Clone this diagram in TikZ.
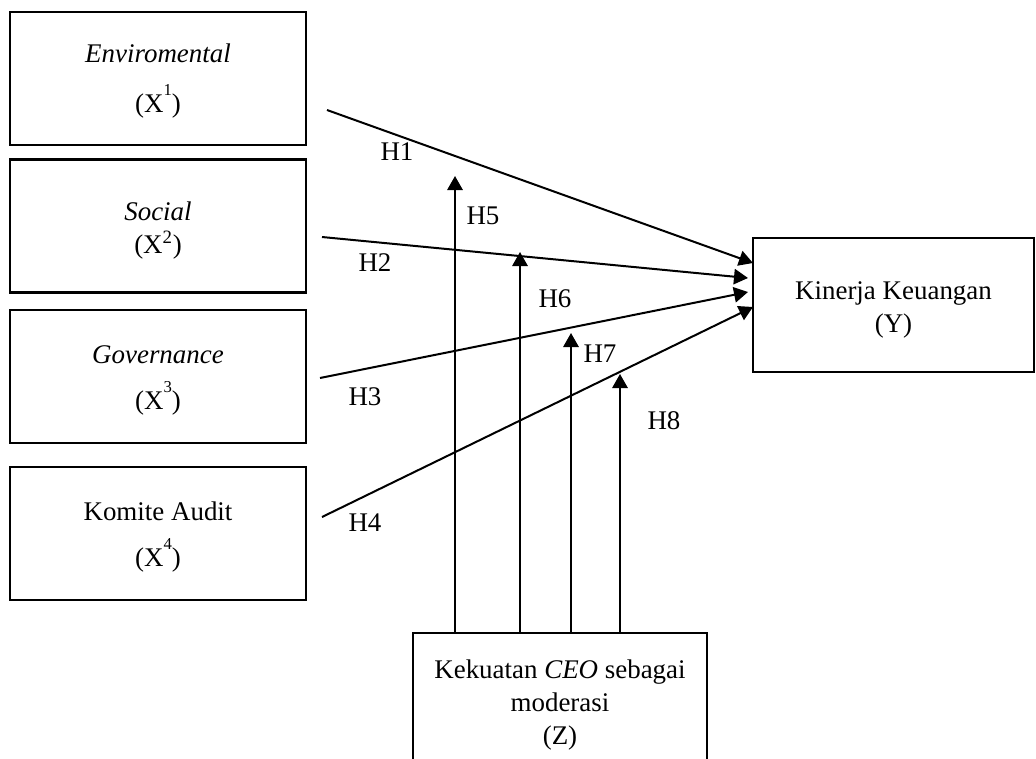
\documentclass[tikz,border=0pt]{standalone}
\usepackage{fontspec}
\setmainfont{Liberation Serif}
\usetikzlibrary{arrows.meta}
\newcommand\hisup[1]{\raisebox{0.62em}{\fontsize{12.5}{12.5}\selectfont #1}}
\newcommand\lowtext[2]{\raisebox{-#1}[\height][\depth]{\begin{tabular}{@{}c@{}}#2\end{tabular}}}
\begin{document}
\begin{tikzpicture}[x=0.75pt,y=-0.75pt,
  every node/.style={font=\fontsize{20.2}{24.8}\selectfont},
  varbox/.style={draw,line width=2pt,minimum width=222pt,minimum height=99.75pt,inner sep=0pt,align=center},
  ybox/.style={draw,line width=2pt,minimum width=210.75pt,minimum height=100.5pt,inner sep=0pt,align=center},
  zbox/.style={draw,line width=2pt,minimum width=220.5pt,minimum height=102pt,inner sep=0pt,align=center},
  link/.style={line width=1.5pt,-{Triangle[length=10.5pt,width=11.5pt]}},
  hlabel/.style={inner sep=0pt}]
\clip (0,0) rectangle (1036,758);
\fill[white] (0,0) rectangle (1036,758);
% boxes
\node[varbox] (x1) at (158,78.5) {\lowtext{2pt}{\textit{Enviromental}\\[9pt](X\hisup{1})}};
\node[varbox] (x2) at (158,226) {\lowtext{3pt}{\textit{Social}\\(X\textsuperscript{2})}};
\node[varbox] (x3) at (158,376.5) {\lowtext{2.5pt}{\textit{Governance}\\[6pt](X\hisup{3})}};
\node[varbox] (x4) at (158,533.5) {\lowtext{2.5pt}{Komite Audit\\[6pt](X\hisup{4})}};
\node[ybox] (y) at (893.5,305) {\lowtext{3.5pt}{Kinerja Keuangan\\(Y)}};
\node[zbox] (z) at (560,701) {\lowtext{3pt}{Kekuatan \textit{CEO} sebagai\\moderasi\\(Z)}};
% direct effect connectors
\coordinate (s1) at (327,110);
\coordinate (s2) at (322,237);
\coordinate (s3) at (320,378);
\coordinate (s4) at (322,517);
\coordinate (t1) at (753,263);
\coordinate (t2) at (748,278);
\coordinate (t3) at (748,292);
\coordinate (t4) at (753,307);
\draw[link] (s1) -- (t1);
\draw[link] (s2) -- (t2);
\draw[link] (s3) -- (t3);
\draw[link] (s4) -- (t4);
% moderation connectors
\coordinate (u1) at (455,176);
\coordinate (u2) at (520,252);
\coordinate (u3) at (571,333);
\coordinate (u4) at (620,374);
\draw[link] (u1 |- z.north) -- (u1);
\draw[link] (u2 |- z.north) -- (u2);
\draw[link] (u3 |- z.north) -- (u3);
\draw[link] (u4 |- z.north) -- (u4);
% labels
\node[hlabel] (h1) at (397,152) {H1};
\node[hlabel] (h2) at (375,263) {H2};
\node[hlabel] (h3) at (365,397) {H3};
\node[hlabel] (h4) at (365,523) {H4};
\node[hlabel] (h5) at (483,216) {H5};
\node[hlabel] (h6) at (555,299) {H6};
\node[hlabel] (h7) at (600,354) {H7};
\node[hlabel] (h8) at (664,421) {H8};
\end{tikzpicture}
\end{document}
